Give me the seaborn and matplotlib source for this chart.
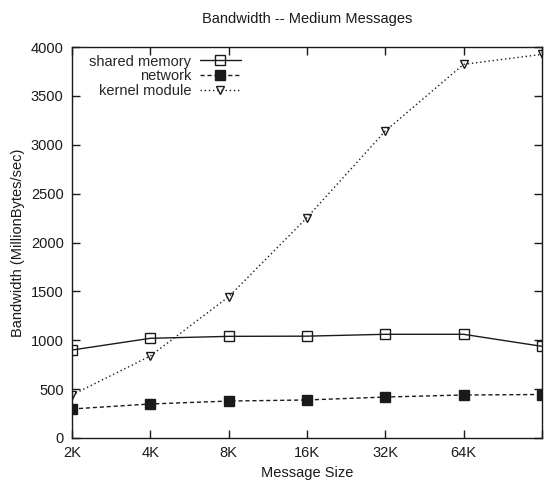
import pandas as pd
import seaborn as sns
import matplotlib.pyplot as plt

# message sizes in bytes (2K .. 128K), plotted on a log2 axis
sizes = [2048, 4096, 8192, 16384, 32768, 65536, 131072]
tick_labels = ["2K", "4K", "8K", "16K", "32K", "64K"]

shared_memory = [900, 1020, 1040, 1042, 1061, 1061, 938]
network = [297, 348, 378, 389, 419, 440, 445]
kernel_module = [440, 839, 1445, 2254, 3140, 3823, 3925]


def graph_bandwidth(outputdir: str):
    sns.set_theme(style="ticks")
    plt.rcParams['font.family'] = ['Liberation Sans Narrow', 'Liberation Sans', 'DejaVu Sans']
    fig = plt.figure(figsize=(5.54, 4.98), dpi=100)
    ax = fig.add_axes([0.13, 0.1205, 0.848, 0.785])

    sns.lineplot(x=sizes, y=shared_memory, ax=ax, color='k', lw=1, marker='s', ms=7,
                 markerfacecolor='none', markeredgecolor='k', mew=1, label="shared memory")
    sns.lineplot(x=sizes, y=network, ax=ax, color='k', lw=1, linestyle=(0, (3, 2)), marker='s', ms=7,
                 markerfacecolor='k', markeredgecolor='k', mew=1, label="network")
    sns.lineplot(x=sizes, y=kernel_module, ax=ax, color='k', lw=1, linestyle=(0, (1, 2)), marker='v', ms=6,
                 markerfacecolor='none', markeredgecolor='k', mew=1, label="kernel module")

    ax.set_xscale('log', base=2)
    ax.set_xlim(sizes[0], sizes[-1])
    ax.set_xticks(sizes)
    ax.set_xticklabels(tick_labels + [""])
    ax.minorticks_off()
    ax.set_ylim(0, 4000)
    ax.set_yticks(range(0, 4001, 500))

    for s in ax.spines.values():
        s.set_color('k')
        s.set_linewidth(1)
    ax.tick_params(direction='in', top=True, right=True, length=6, width=1,
                   labelsize=10.5, colors='k', pad=6)

    ax.set_xlabel('Message Size', fontsize=10.5, color='k')
    ax.set_ylabel('Bandwidth (MillionBytes/sec)', fontsize=10.5, color='k')
    ax.set_title('Bandwidth -- Medium Messages', fontsize=10.5, color='k', pad=17)

    ax.legend(loc='upper left', bbox_to_anchor=(0.015, 1.007), frameon=False, markerfirst=False,
              fontsize=10.5, handlelength=2.8, handletextpad=0.6, labelspacing=0.05,
              borderaxespad=0.3)

    plt.savefig(outputdir, dpi=100)


if __name__ == '__main__':
    graph_bandwidth("out.png")
